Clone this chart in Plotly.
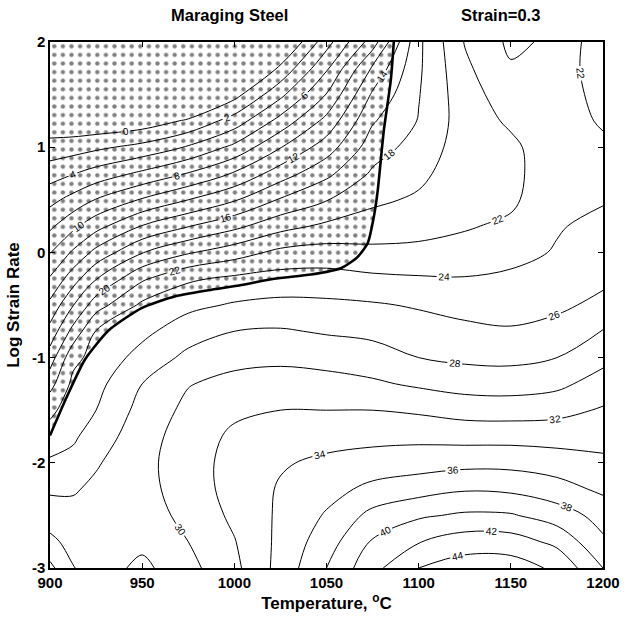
import numpy as np
import plotly.graph_objects as go

# Grid of the processing map (efficiency of power dissipation, %)
temperature = [900, 912.5, 925, 950, 975, 1000, 1025, 1050, 1075, 1100, 1125, 1150, 1175, 1200]
log_rate = [2.0, 1.75, 1.5, 1.25, 1.0, 0.75, 0.5, 0.25, 0.0, -0.25, -0.5, -0.75,
            -1.0, -1.25, -1.5, -1.75, -2.0, -2.25, -2.5, -2.75, -3.0]

# efficiency values, one list per temperature (top row = log rate 2 ... bottom = -3)
eff_900 = [-8.3, -6.0, -3.7, -1.5, 0.8, 3.1, 5.4, 7.6, 9.9, 12.2, 14.5, 16.7, 19.0, 21.3, 23.5, 24.9, 26.3, 27.7, 29.0, 30.5, 32.5]
eff_912 = [-10.0, -7.25, -4.5, -1.7, 1.1, 3.9, 6.7, 9.5, 12.3, 15.1, 17.9, 20.65, 23.44, 24.5, 25.1, 25.7, 26.6, 27.8, 28.6, 29.3, 30.1]
eff_925 = [-11.5, -8.2, -5.0, -1.7, 1.6, 4.8, 8.1, 11.3, 14.6, 17.9, 21.1, 24.1, 24.7, 25.4, 26.0, 26.9, 27.8, 28.4, 28.8, 29.1, 29.0]
eff_950 = [-12.7, -8.9, -5.0, -1.2, 2.6, 6.4, 10.2, 14.1, 17.9, 21.7, 24.4, 25.5, 26.7, 28.0, 28.7, 29.2, 29.4, 29.3, 29.0, 28.5, 27.5]
eff_975 = [-11.4, -7.5, -3.6, 0.3, 4.2, 8.1, 12.0, 15.9, 19.8, 23.7, 25.5, 27.1, 28.5, 29.9, 30.5, 30.9, 31.1, 31.0, 30.6, 30.0, 29.4]
eff_1000 = [-8.0, -4.4, -0.7, 2.9, 6.5, 10.2, 13.8, 17.5, 21.1, 24.4, 26.2, 28.0, 29.4, 30.6, 31.6, 32.4, 32.7, 32.7, 32.4, 31.9, 31.5]
eff_1025 = [-2.8, 0.4, 3.5, 6.7, 9.9, 13.0, 16.2, 19.3, 22.5, 24.8, 26.5, 28.2, 29.6, 30.8, 32.0, 32.9, 33.8, 34.2, 34.35, 34.5, 34.7]
eff_1050 = [3.2, 5.7, 8.1, 10.6, 13.0, 15.5, 17.9, 20.4, 22.8, 24.8, 26.4, 27.8, 29.3, 30.7, 32.0, 33.3, 34.4, 35.3, 36.2, 37.1, 38.0]
eff_1075 = [9.0, 12.3, 14.3, 15.8, 17.05, 18.3, 19.6, 20.9, 22.5, 24.4, 26.2, 27.5, 28.9, 30.3, 32.0, 33.4, 34.9, 36.5, 38.6, 40.2, 41.4]
eff_1100 = [17.6, 17.7, 17.9, 18.1, 18.8, 19.5, 20.3, 21.3, 22.5, 24.2, 25.8, 26.9, 28.0, 29.7, 31.7, 33.5, 35.1, 37.2, 39.7, 41.9, 44.0]
eff_1125 = [22.1, 21.6, 21.2, 21.0, 21.0, 21.2, 21.5, 21.8, 22.8, 24.1, 25.3, 26.5, 27.6, 29.2, 31.2, 33.3, 35.4, 37.8, 40.3, 43.0, 45.0]
eff_1150 = [24.4, 23.8, 23.0, 22.3, 21.6, 21.4, 21.6, 22.4, 23.4, 24.35, 25.2, 26.2, 27.5, 29.1, 31.1, 33.3, 35.4, 37.6, 40.2, 42.9, 45.0]
eff_1175 = [23.6, 23.0, 22.9, 23.0, 23.2, 23.4, 23.6, 23.85, 24.15, 24.9, 25.6, 26.7, 28.0, 29.5, 31.4, 33.2, 35.0, 36.8, 39.0, 41.5, 43.6]
eff_1200 = [20.6, 21.0, 21.4, 21.75, 22.4, 23.1, 23.85, 24.5, 25.0, 25.6, 26.5, 28.1, 29.4, 30.9, 32.2, 33.3, 34.4, 35.6, 37.3, 38.3, 40.0]

# instability boundary (xi = 0)
boundary_temp = [900, 909.2, 918.9, 931.9, 949.7, 967.6, 985.9, 1003.8, 1021.6, 1041.6,
                 1057.8, 1066.5, 1072.4, 1075.7, 1077.8, 1081.1, 1084.9, 1086.5]
boundary_rate = [-1.74, -1.37, -1.02, -0.74, -0.53, -0.42, -0.36, -0.31, -0.25, -0.21,
                 -0.15, -0.05, 0.09, 0.34, 0.59, 1.16, 1.64, 2.0]

x_ticks = [900, 950, 1000, 1050, 1100, 1150, 1200]
y_ticks = [-3, -2, -1, 0, 1, 2]
y_tick_text = ["-3", "-2", "-1", "0", "1", "2"]

cols = [eff_900, eff_912, eff_925, eff_950, eff_975, eff_1000, eff_1025, eff_1050,
        eff_1075, eff_1100, eff_1125, eff_1150, eff_1175, eff_1200]
Z = np.array(cols).T[::-1]          # rows for ascending log rate
Y = log_rate[::-1]

TICKFONT = "Liberation Sans Narrow, Liberation Sans, Arial"
FONT = "Liberation Sans, Arial"

fig = go.Figure()

# stippled (unstable) region
poly_x = boundary_temp + [temperature[0]]
poly_y = boundary_rate + [log_rate[0]]
fig.add_trace(go.Scatter(
    x=poly_x, y=poly_y, mode="lines", fill="toself",
    line=dict(width=0, color="rgba(0,0,0,0)"),
    fillcolor="rgba(0,0,0,0)",
    fillpattern=dict(shape=".", fgcolor="black", bgcolor="rgba(0,0,0,0)",
                     size=8.6, solidity=0.2, fillmode="overlay"),
    hoverinfo="skip", showlegend=False))

fig.add_trace(go.Contour(
    x=temperature, y=Y, z=Z,
    contours=dict(start=0, end=44, size=2, coloring="lines", showlabels=True,
                  labelfont=dict(family="Liberation Sans", size=10, color="black")),
    colorscale=[[0, "black"], [1, "black"]],
    line=dict(width=1, smoothing=1.0),
    showscale=False, hoverinfo="skip"))

# boundary line
fig.add_trace(go.Scatter(
    x=boundary_temp, y=boundary_rate, mode="lines",
    line=dict(color="black", width=2.6, shape="spline", smoothing=0.6),
    hoverinfo="skip", showlegend=False))

axis_common = dict(showgrid=False, zeroline=False, showline=True, linecolor="black",
                   linewidth=1.5, mirror="ticks", ticks="inside", ticklen=5,
                   tickcolor="black",
                   tickfont=dict(family=TICKFONT, size=15, color="black", weight="bold"))

fig.update_xaxes(range=[900, 1200], tickvals=x_ticks, **axis_common,
                 title=dict(text="Temperature, <sup>o</sup>C", standoff=6,
                            font=dict(family=FONT, size=17, color="black", weight="bold")))
fig.update_yaxes(range=[-3, 2], tickvals=y_ticks, ticktext=y_tick_text, **axis_common,
                 title=dict(text="Log Strain Rate", standoff=8,
                            font=dict(family=FONT, size=17, color="black", weight="bold")))

fig.add_annotation(text="Maraging Steel", x=0.325, xref="paper", xanchor="center",
                   y=1.0, yref="paper", yanchor="middle", yshift=27, showarrow=False,
                   font=dict(family=FONT, size=16.5, color="black", weight="bold"))
fig.add_annotation(text="Strain=0.3", x=0.815, xref="paper", xanchor="center",
                   y=1.0, yref="paper", yanchor="middle", yshift=27, showarrow=False,
                   font=dict(family=FONT, size=16.5, color="black", weight="bold"))

fig.update_layout(width=637, height=626, margin=dict(l=48, r=34, t=42, b=58),
                  paper_bgcolor="white", plot_bgcolor="white", showlegend=False)

fig.write_html("out.html")
